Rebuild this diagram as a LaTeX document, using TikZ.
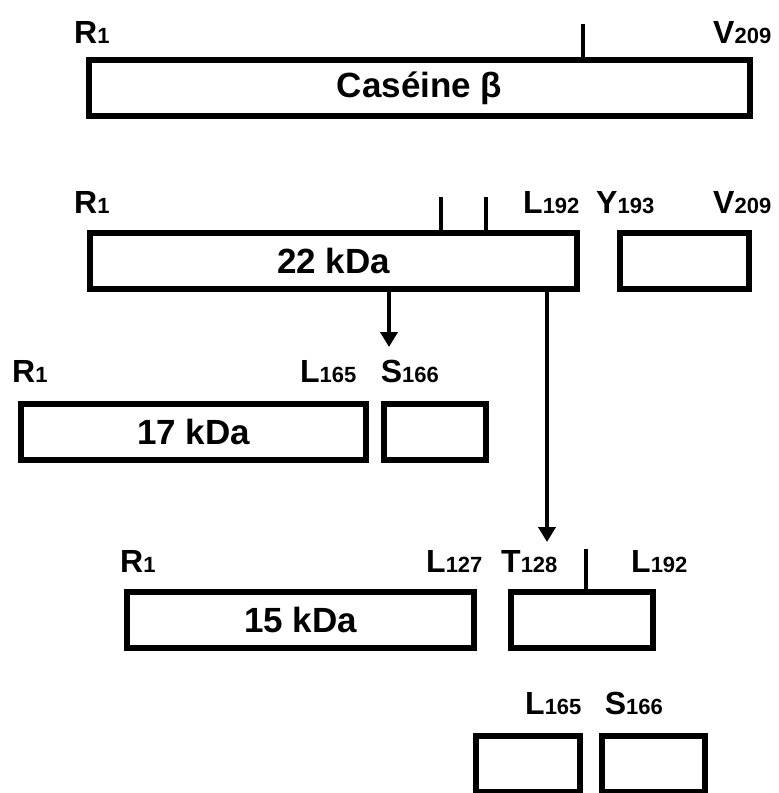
\documentclass[tikz,border=0pt]{standalone}
\usepackage{fontspec}
\setmainfont{Liberation Sans}
\usetikzlibrary{arrows.meta,positioning}
\newcommand{\resid}[2]{{\fontsize{32}{32}\selectfont #1}{\fontsize{22}{22}\selectfont #2}}

\begin{document}
\begin{tikzpicture}[x=1pt,y=-1pt,>={Triangle[length=15pt,width=17pt]},
  frag/.style={draw,line width=6pt,inner sep=0pt,minimum height=56pt,
    font=\fontsize{35}{35}\selectfont\bfseries},
  lbl/.style={inner sep=0pt,font=\bfseries},
  cut/.style={line width=4.5pt}]
  \useasboundingbox (0,0) rectangle (779,793);
  % intact protein
  \node[frag,minimum width=661pt] (casein) at (419.5,88) {Caséine β};
  \node[lbl,anchor=base west] (c-r1) at (74,43) {\resid{R}{1}};
  \node[lbl,anchor=base west] (c-v209) at (713,43) {\resid{V}{209}};
  \coordinate (k0) at (583,24);
  \draw[cut] (k0) -- (k0 |- casein.north);
  % 22 kDa fragment
  \node[frag,minimum width=487pt] (p22) at (333.5,261) {22 kDa};
  \node[frag,minimum width=129pt] (c22) at (684.5,261) {};
  \node[lbl,anchor=base west] (p22-r1) at (74,213) {\resid{R}{1}};
  \node[lbl,anchor=base west] (p22-l192) at (523,213) {\resid{L}{192}};
  \node[lbl,anchor=base west] (c22-y193) at (596,213) {\resid{Y}{193}};
  \node[lbl,anchor=base west] (c22-v209) at (713,213) {\resid{V}{209}};
  \foreach \x [count=\i] in {441,486}{
    \coordinate (k\i) at (\x,197);
    \draw[cut] (k\i) -- (k\i |- p22.north);
  }
  % 17 kDa fragment
  \node[frag,minimum width=345pt] (p17) at (193.5,432) {17 kDa};
  \node[frag,minimum width=102pt] (c17) at (435,432) {};
  \node[lbl,anchor=base west] (p17-r1) at (12,382) {\resid{R}{1}};
  \node[lbl,anchor=base west] (p17-l165) at (300,382) {\resid{L}{165}};
  \node[lbl,anchor=base east] (c17-s166) at (439,382) {\resid{S}{166}};
  \coordinate (t17) at (389,347);
  \draw[cut,->] (p22.south -| t17) -- (t17);
  % 15 kDa fragment
  \node[frag,minimum width=347pt] (p15) at (300.5,620) {15 kDa};
  \node[frag,minimum width=142pt] (c15) at (582,620) {};
  \node[lbl,anchor=base west] (p15-r1) at (120,572) {\resid{R}{1}};
  \node[lbl,anchor=base west] (p15-l127) at (426,572) {\resid{L}{127}};
  \node[lbl,anchor=base west] (c15-t128) at (501,572) {\resid{T}{128}};
  \node[lbl,anchor=base west] (c15-l192) at (631,572) {\resid{L}{192}};
  \coordinate (t15) at (547,542);
  \draw[cut,->] (p22.south -| t15) -- (t15);
  \coordinate (k3) at (586,549);
  \draw[cut] (k3) -- (k3 |- c15.north);
  % small pieces
  \node[frag,minimum width=104pt] (f1) at (528,764) {};
  \node[frag,minimum width=103pt] (f2) at (653.5,764) {};
  \node[lbl,anchor=base west] (f1-l165) at (525,714) {\resid{L}{165}};
  \node[lbl,anchor=base east] (f2-s166) at (663,714) {\resid{S}{166}};
\end{tikzpicture}
\end{document}
